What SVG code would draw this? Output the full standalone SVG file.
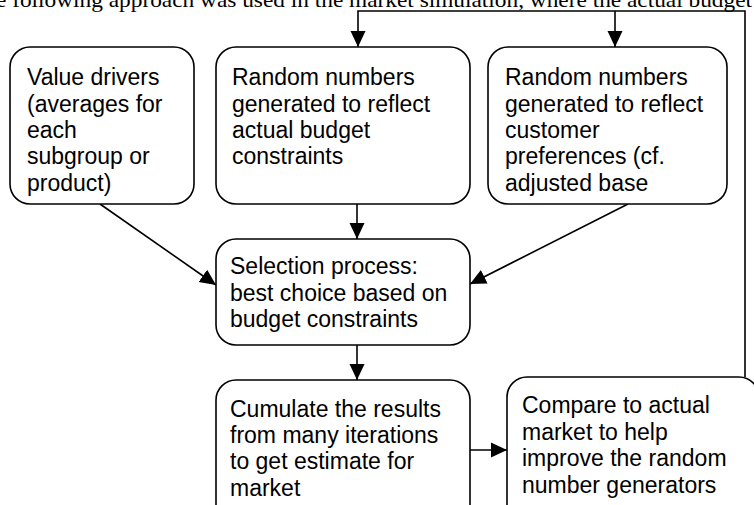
<svg xmlns="http://www.w3.org/2000/svg" width="754" height="505" viewBox="0 0 754 505">
<style>
.box{fill:#fff;stroke:#000;stroke-width:1.6}
.t{font-family:"Liberation Sans",Arial,sans-serif;font-size:23px;fill:#000}
.hdr{font-family:"Liberation Serif","Times New Roman",serif;font-size:21px;fill:#000}
.c{fill:none;stroke:#000;stroke-width:1.6}
</style>
<defs>
<marker id="ah" markerUnits="userSpaceOnUse" markerWidth="18" markerHeight="18" viewBox="0 0 18 18" refX="16" refY="9" orient="auto">
<path d="M0,1.5 L16,9 L0,16.5 Z" fill="#000"/>
</marker>
</defs>
<rect width="754" height="505" fill="#fff"/>
<text class="hdr" x="-4" y="7" textLength="756" lengthAdjust="spacingAndGlyphs">e following approach was used in the market simulation, where the actual budget</text>
<g id="connectors">
<polyline class="c" points="745,377 745,11 358,11 358,47" marker-end="url(#ah)"/>
<line class="c" x1="615" y1="11" x2="615" y2="47" marker-end="url(#ah)"/>
<line class="c" x1="357" y1="204" x2="357" y2="239" marker-end="url(#ah)"/>
<line class="c" x1="100" y1="204" x2="216" y2="285" marker-end="url(#ah)"/>
<line class="c" x1="628" y1="204" x2="470" y2="284" marker-end="url(#ah)"/>
<line class="c" x1="357" y1="345" x2="357" y2="380" marker-end="url(#ah)"/>
<line class="c" x1="470" y1="450" x2="507" y2="450" marker-end="url(#ah)"/>
</g>
<g id="value-drivers">
<rect class="box" x="10" y="47" width="184" height="157" rx="20"/>
<text class="t" x="27" y="85">Value drivers</text>
<text class="t" x="27" y="111.5">(averages for</text>
<text class="t" x="27" y="138">each</text>
<text class="t" x="27" y="164">subgroup or</text>
<text class="t" x="27" y="190.5">product)</text>
</g>
<g id="random-budget">
<rect class="box" x="216" y="47" width="254" height="157" rx="20"/>
<text class="t" x="232" y="85">Random numbers</text>
<text class="t" x="232" y="111.5">generated to reflect</text>
<text class="t" x="232" y="138">actual budget</text>
<text class="t" x="232" y="164">constraints</text>
</g>
<g id="random-preferences">
<rect class="box" x="488" y="47" width="239" height="157" rx="20"/>
<text class="t" x="505" y="85">Random numbers</text>
<text class="t" x="505" y="111.5">generated to reflect</text>
<text class="t" x="505" y="138">customer</text>
<text class="t" x="505" y="164">preferences (cf.</text>
<text class="t" x="505" y="190.5">adjusted base</text>
</g>
<g id="selection">
<rect class="box" x="216" y="239" width="254" height="106" rx="20"/>
<text class="t" x="230" y="274">Selection process:</text>
<text class="t" x="230" y="300.5">best choice based on</text>
<text class="t" x="230" y="327">budget constraints</text>
</g>
<g id="cumulate">
<rect class="box" x="216" y="380" width="254" height="150" rx="20"/>
<text class="t" x="230" y="416.5">Cumulate the results</text>
<text class="t" x="230" y="443">from many iterations</text>
<text class="t" x="230" y="469">to get estimate for</text>
<text class="t" x="230" y="495.5">market</text>
</g>
<g id="compare">
<rect class="box" x="507" y="377" width="252" height="150" rx="20"/>
<text class="t" x="522" y="413">Compare to actual</text>
<text class="t" x="522" y="439.5">market to help</text>
<text class="t" x="522" y="466">improve the random</text>
<text class="t" x="522" y="492.5">number generators</text>
</g>
</svg>
